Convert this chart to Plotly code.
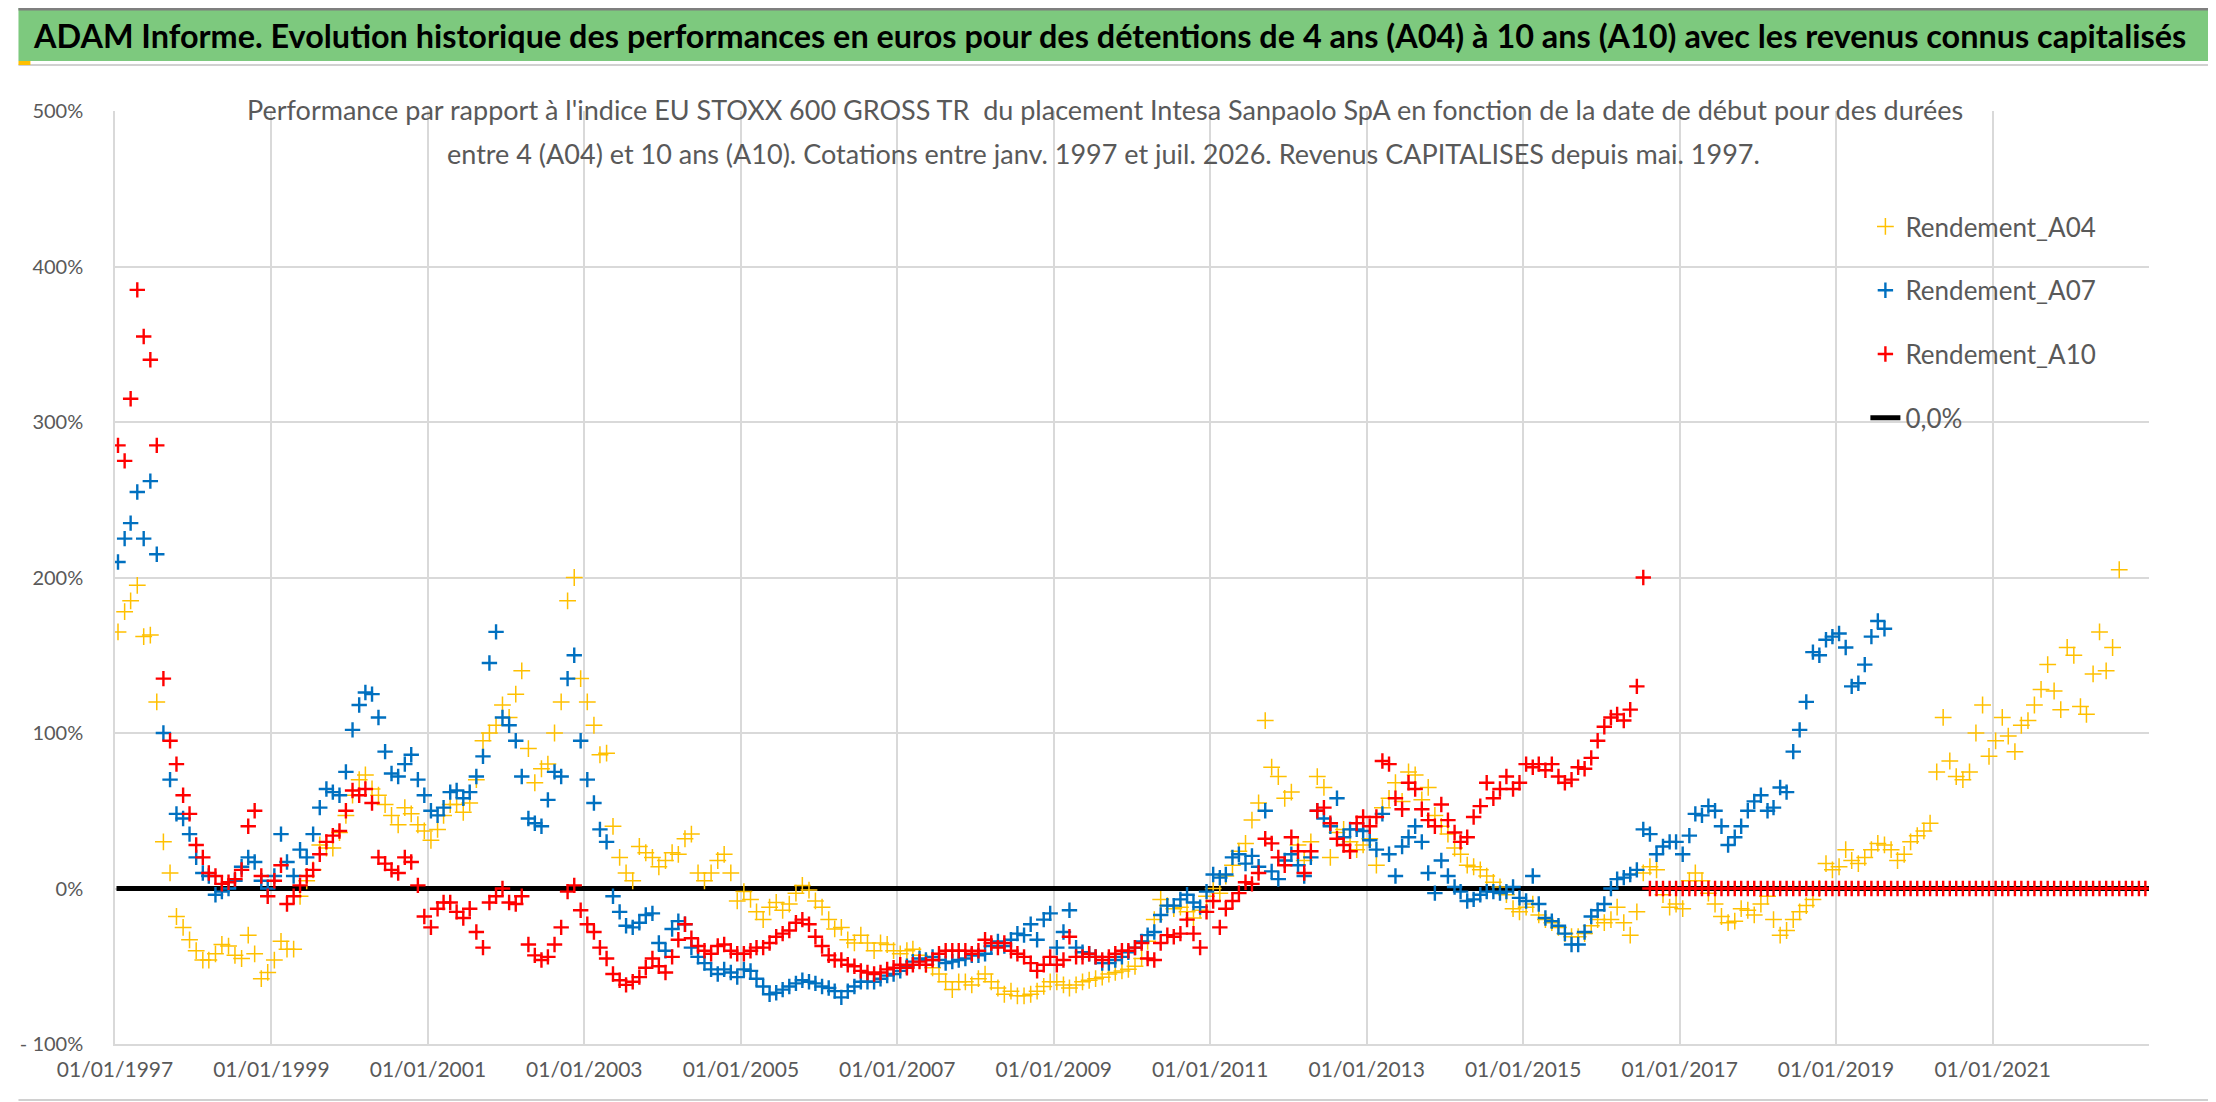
#!/usr/bin/env python3

"""
ADAM Informe - Intesa Sanpaolo vs EU STOXX 600 GROSS TR, A04 / A07 / A10
"""

import pandas as pd
import plotly.graph_objs as go

# monthly readings (%), first value = january 1997
START = "1997-01-01"
END = "2023-01-01"

a04_values = [
    165, 178, 185, 195, 162, 163, 120, 30, 10, -18, -25, -33,
    -40, -46, -46, -42, -36, -37, -43, -45, -30, -42, -58, -54,
    -46, -34, -39, -39, -5, 5, 12, 28, 26, 26, 36, 47,
    60, 70, 73, 64, 60, 54, 47, 41, 52, 48, 41, 37,
    31, 38, 47, 54, 54, 49, 55, 70, 95, 100, 105, 118,
    110, 125, 140, 90, 68, 77, 80, 100, 120, 185, 200, 135,
    120, 105, 86, 87, 40, 20, 10, 5, 27, 23, 20, 14,
    18, 23, 22, 32, 35, 10, 5, 10, 18, 22, 10, -8,
    -2, -7, -15, -20, -12, -9, -14, -10, -3, 2, -1, -8,
    -12, -20, -26, -25, -33, -35, -30, -35, -40, -35, -36, -40,
    -42, -40, -39, -43, -49, -51, -55, -60, -65, -60, -60, -62,
    -58, -55, -60, -64, -68, -66, -69, -69, -68, -66, -63, -60,
    -60, -62, -64, -62, -60, -59, -58, -57, -55, -54, -53, -52,
    -50, -45, -34, -20, -7, -11, -13, -12, -15, -19, -14, -5,
    0, -3, 8, 15, 24, 29, 44, 55, 108, 78, 72, 58,
    62, 28, 18, 30, 72, 65, 20, 36, 38, 30, 25, 28,
    32, 15, 52, 58, 68, 56, 75, 73, 57, 65, 47, 40,
    35, 26, 22, 15, 14, 12, 8, 4, 1, -4, -13, -15,
    -12, -10, -17, -20, -22, -25, -29, -31, -31, -29, -24, -20,
    -22, -20, -12, -22, -30, -15, 10, 14, 12, -4, -12, -10,
    -13, 5, 10, 5, -3, -10, -18, -22, -21, -13, -14, -17,
    -10, -5, -20, -30, -27, -20, -15, -11, -7, 0, 16, 12,
    14, 25, 18, 16, 20, 25, 29, 28, 25, 18, 22, 30,
    34, 37, 42, 75, 110, 82, 72, 70, 75, 100, 118, 85,
    95, 110, 98, 88, 105, 108, 118, 128, 144, 127, 115, 155,
    150, 117, 112, 138, 165, 140, 155, 205,
]

a07_values = [
    210, 225, 235, 255, 225, 262, 215, 100, 70, 48, 45, 35,
    20, 10, 8, -4, -2, 0, 5, 14, 20, 17, 5, 0,
    8, 35, 17, 8, 25, 20, 35, 52, 64, 62, 60, 75,
    102, 118, 126, 125, 110, 88, 74, 72, 80, 86, 70, 60,
    50, 47, 52, 62, 63, 58, 62, 72, 85, 145, 165, 110,
    105, 95, 72, 45, 42, 40, 57, 75, 72, 135, 150, 95,
    70, 55, 38, 30, -5, -15, -24, -25, -22, -17, -16, -35,
    -40, -26, -21, -23, -38, -44, -48, -52, -55, -52, -54, -57,
    -52, -53, -58, -63, -68, -67, -65, -63, -61, -59, -60, -61,
    -63, -64, -66, -70, -66, -63, -60, -60, -60, -58, -56, -55,
    -53, -50, -47, -45, -46, -44, -46, -48, -47, -46, -45, -43,
    -43, -42, -37, -34, -37, -33, -29, -30, -23, -33, -20, -16,
    -38, -28, -14, -38, -41, -42, -44, -48, -48, -46, -44, -41,
    -38, -34, -30, -28, -17, -11, -11, -7, -4, -9, -12, -2,
    9, 7, 9, 20, 22, 16, 21, 14, 50, 11, 6, 18,
    22, 15, 8, 20, 50, 45, 40, 58, 33, 38, 38, 37,
    31, 25, 48, 22, 8, 27, 33, 40, 30, 10, -3, 18,
    8, 1, -2, -8, -7, -4, -2, -2, -3, -2, 1, -6,
    -8, 8, -10, -19, -21, -24, -29, -36, -36, -28, -18, -14,
    -10, 0, 6, 7, 9, 12, 38, 35, 22, 27, 30, 30,
    22, 34, 48, 47, 53, 50, 40, 28, 33, 40, 50, 56,
    60, 50, 52, 65, 62, 88, 102, 120, 152, 150, 160, 162,
    164, 155, 130, 132, 144, 162, 172, 167,
]

a10_values = [
    285, 275, 315, 385, 355, 340, 285, 135, 95, 80, 60, 48,
    28, 20, 10, 8, 3, 4, 6, 12, 40, 50, 8, -5,
    5, 15, -10, -5, 2, 8, 12, 22, 30, 34, 37, 50,
    63, 60, 64, 55, 20, 16, 12, 10, 20, 17, 2, -18,
    -25, -13, -9, -9, -15, -19, -13, -28, -38, -9, -5, 0,
    -9, -10, -5, -36, -43, -46, -44, -36, -25, -2, 2, -14,
    -23, -28, -38, -45, -55, -59, -62, -60, -57, -51, -45, -50,
    -54, -44, -33, -23, -32, -37, -40, -42, -37, -36, -40, -42,
    -42, -40, -38, -38, -35, -31, -29, -27, -22, -20, -23, -31,
    -37, -43, -46, -46, -49, -50, -53, -54, -55, -54, -52, -51,
    -49, -51, -49, -47, -49, -46, -42, -40, -40, -40, -40, -42,
    -40, -33, -35, -38, -35, -40, -42, -44, -48, -53, -49, -44,
    -49, -46, -31, -44, -44, -42, -44, -46, -44, -42, -40, -40,
    -38, -35, -45, -46, -35, -30, -31, -29, -20, -29, -38, -15,
    -8, -25, -13, -8, -3, 4, 3, 10, 32, 29, 20, 15,
    33, 24, 10, 24, 50, 52, 42, 32, 28, 24, 42, 46,
    40, 46, 82, 80, 58, 51, 68, 64, 51, 44, 40, 54,
    44, 36, 30, 33, 46, 53, 68, 58, 64, 72, 64, 68,
    80, 78, 80, 76, 80, 72, 68, 70, 78, 77, 84, 95,
    104, 110, 112, 108, 115, 130, 200, 0, 0, 0, 0, 0,
    0, 0, 0, 0, 0, 0, 0, 0, 0, 0, 0, 0,
    0, 0, 0, 0, 0, 0, 0, 0, 0, 0, 0, 0,
    0, 0, 0, 0, 0, 0, 0, 0, 0, 0, 0, 0,
    0, 0, 0, 0, 0, 0, 0, 0, 0, 0, 0, 0,
    0, 0, 0, 0, 0, 0, 0, 0, 0, 0, 0, 0,
    0, 0, 0, 0, 0, 0, 0, 0, 0, 0, 0, 0,
]

x_tick_labels = ["01/01/1997", "01/01/1999", "01/01/2001", "01/01/2003",
                 "01/01/2005", "01/01/2007", "01/01/2009", "01/01/2011",
                 "01/01/2013", "01/01/2015", "01/01/2017", "01/01/2019",
                 "01/01/2021"]
y_tick_values = [-100, 0, 100, 200, 300, 400, 500]
y_tick_labels = ["- 100%", "0%", "100%", "200%", "300%", "400%", "500%"]

TITLE = ("ADAM Informe. Evolution historique des performances en euros pour des détentions "
         "de 4 ans (A04) à 10 ans (A10) avec les revenus connus capitalisés")
SUB_1 = ("Performance par rapport à l'indice EU STOXX 600 GROSS TR \u00a0du placement Intesa "
         "Sanpaolo SpA en fonction de la date de début pour des durées")
SUB_2 = ("entre 4 (A04) et 10 ans (A10). Cotations entre janv. 1997 et juil. 2026. "
         "Revenus CAPITALISES depuis mai. 1997.")

FONT = "Lato"
GREY_TEXT = "#595959"
GRID = "#D9D9D9"

# plot area in pixels (2216 x 1102 page)
W, H = 2216, 1102
L, R, T, B = 97, 2141, 103, 1036


def px_x(x):
    return (x - L) / (R - L)


def px_y(y):
    return (B - y) / (B - T)


def month_dates(n):
    return pd.date_range(START, periods=n, freq="MS") + pd.Timedelta(days=14)


def main():
    fig = go.Figure()

    # 0,0% reference line, drawn first so the markers sit on top
    fig.add_trace(go.Scatter(x=[pd.Timestamp(START) + pd.Timedelta(days=7), pd.Timestamp(END)],
                             y=[0, 0], mode="lines",
                             name="0,0%", legendgroup="d", legendrank=4,
                             line=dict(color="black", width=5)))

    series = [("Rendement_A04", a04_values, "#FFC000", 12, 1.5, "a"),
              ("Rendement_A07", a07_values, "#0070C0", 11, 2.4, "b"),
              ("Rendement_A10", a10_values, "#FF0000", 11, 2.4, "c")]
    for i, (name, values, colour, size, width, group) in enumerate(series):
        fig.add_trace(go.Scatter(x=month_dates(len(values)), y=values, mode="markers",
                                 name=name, legendgroup=group, legendrank=i + 1,
                                 marker=dict(symbol="cross-thin", size=size,
                                             color=colour,
                                             line=dict(color=colour, width=width))))

    shapes = [
        # green title band
        dict(type="rect", xref="paper", yref="paper", x0=px_x(0), x1=px_x(W),
             y0=px_y(53), y1=px_y(0), fillcolor="#7DC97E", line=dict(width=0), layer="below"),
        dict(type="line", xref="paper", yref="paper", x0=px_x(0), x1=px_x(W),
             y0=px_y(1), y1=px_y(1), line=dict(color="#7F7F7F", width=3)),
        # chart frame
        dict(type="line", xref="paper", yref="paper", x0=px_x(0), x1=px_x(2208),
             y0=px_y(57), y1=px_y(57), line=dict(color="#D0D0D0", width=2)),
        dict(type="line", xref="paper", yref="paper", x0=px_x(2208), x1=px_x(2208),
             y0=px_y(57), y1=px_y(1092), line=dict(color="#BFBFBF", width=2)),
        dict(type="line", xref="paper", yref="paper", x0=px_x(0), x1=px_x(2208),
             y0=px_y(1092), y1=px_y(1092), line=dict(color="#D0D0D0", width=2)),
        dict(type="rect", xref="paper", yref="paper", x0=px_x(2210), x1=px_x(W),
             y0=px_y(1102), y1=px_y(1030), fillcolor="#FFC000", line=dict(width=0)),
        dict(type="rect", xref="paper", yref="paper", x0=px_x(0), x1=px_x(12),
             y0=px_y(57), y1=px_y(53), fillcolor="#FFC000", line=dict(width=0)),
        dict(type="rect", xref="paper", yref="paper", x0=px_x(0), x1=px_x(10),
             y0=px_y(1100), y1=px_y(1094), fillcolor="#FFC000", line=dict(width=0)),
        # white boxes behind the subtitle and the legend
        dict(type="rect", xref="paper", yref="paper", x0=px_x(240), x1=px_x(1973),
             y0=px_y(168), y1=px_y(84), fillcolor="white", line=dict(width=0), layer="between"),
        dict(type="rect", xref="paper", yref="paper", x0=px_x(1807), x1=px_x(2140),
             y0=px_y(450), y1=px_y(193), fillcolor="white", line=dict(width=0), layer="between"),
    ]

    annotations = [
        dict(text="<b>{}</b>".format(TITLE), xref="paper", yref="paper",
             x=px_x(1096), y=px_y(27), xanchor="center", yanchor="middle", showarrow=False,
             font=dict(family=FONT, size=32.4, color="black")),
        dict(text=SUB_1, xref="paper", yref="paper", x=px_x(1092), y=px_y(102),
             xanchor="center", yanchor="middle", showarrow=False,
             font=dict(family=FONT, size=27, color=GREY_TEXT)),
        dict(text=SUB_2, xref="paper", yref="paper", x=px_x(1090), y=px_y(146),
             xanchor="center", yanchor="middle", showarrow=False,
             font=dict(family=FONT, size=27, color=GREY_TEXT)),
    ]

    fig.update_layout(
        width=W, height=H,
        margin=dict(l=L, r=W - R, t=T, b=H - B, pad=0),
        paper_bgcolor="white", plot_bgcolor="white",
        font=dict(family=FONT, color=GREY_TEXT),
        shapes=shapes, annotations=annotations,
        showlegend=True,
        legend=dict(x=px_x(1856), y=px_y(195), xanchor="left", yanchor="top",
                    bgcolor="rgba(0,0,0,0)", traceorder="grouped", tracegroupgap=27,
                    font=dict(family=FONT, size=26, color=GREY_TEXT)),
        xaxis=dict(type="date", range=[START, END],
                   tickvals=pd.to_datetime(x_tick_labels, format="%d/%m/%Y"),
                   ticktext=x_tick_labels, ticks="", ticklabelstandoff=6,
                   tickfont=dict(family=FONT, size=21, color=GREY_TEXT),
                   showgrid=True, gridcolor=GRID, gridwidth=1.5,
                   showline=True, linecolor=GRID, linewidth=1.5, zeroline=False),
        yaxis=dict(range=[-100, 500], tickvals=y_tick_values, ticktext=y_tick_labels,
                   ticks="", ticklabelstandoff=26,
                   tickfont=dict(family=FONT, size=20, color=GREY_TEXT),
                   showgrid=True, gridcolor=GRID, gridwidth=1.5,
                   showline=True, linecolor=GRID, linewidth=1.5, zeroline=False),
    )

    fig.write_html("out.html")


if __name__ == '__main__':
    main()
